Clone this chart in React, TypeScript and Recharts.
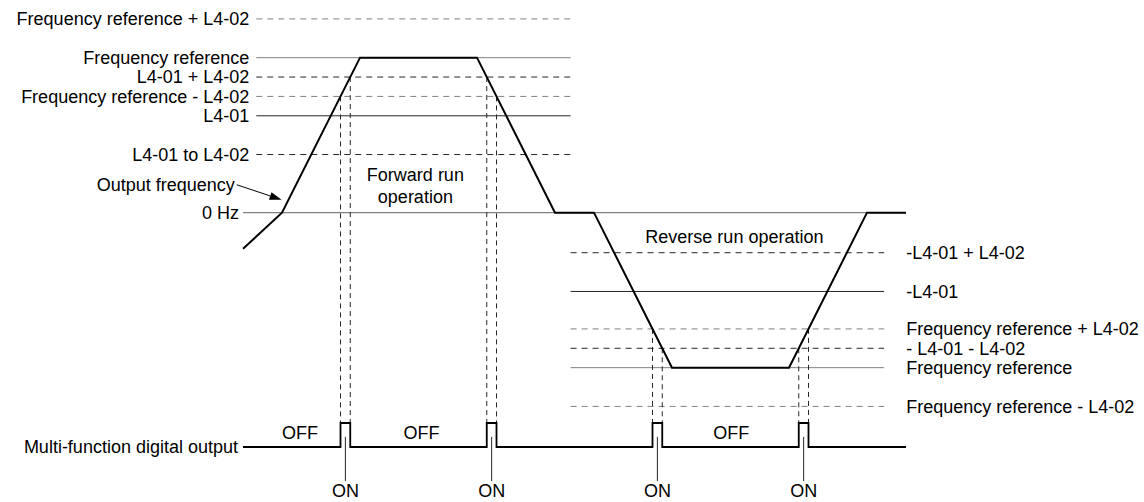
import { LineChart, Line, XAxis, YAxis, ReferenceLine, ReferenceDot } from 'recharts';

// output frequency trace: corners in time (s) and frequency (Hz)
const traceTimes = [0, 5, 15, 30, 40, 45, 55, 70, 80, 85];
const traceFreqs = [-14, 0, 60, 60, 0, 0, -60, -60, 0, 0];

// detection levels on the forward side (labels on the left)
const forwardLabels = ['Frequency reference + L4-02', 'Frequency reference', 'L4-01 + L4-02', 'Frequency reference - L4-02', 'L4-01', 'L4-01 to L4-02'];
const forwardLevels = [75, 60, 52.5, 45, 37.5, 22.5];
const forwardSpan = [1.7, 42];

// detection levels on the reverse side (labels on the right)
const reverseLabels = ['-L4-01 + L4-02', '-L4-01', 'Frequency reference + L4-02', '- L4-01 - L4-02', 'Frequency reference', 'Frequency reference - L4-02'];
const reverseLevels = [-15.5, -30.5, -45, -52.5, -60, -75];
const reverseSpan = [42, 82.2];

// multi-function digital output ON windows (s)
const pulseStarts = [12.5, 31.25, 52.5, 71.25];
const pulseEnds = [13.75, 32.5, 53.75, 72.5];
// level the trace crosses at each pulse edge (start, end, start, end ...)
const edgeLevels = [45, 52.5, 52.5, 45, -45, -52.5, -52.5, -45];

const offTimes = [7.3, 22.9, 62.6];

const FREQ_DOMAIN: [number, number] = [-112, 80];
const DOUT_DOMAIN: [number, number] = [-55 / 24, 441 / 24];
const T_END = 85;

const GREY = '#808080';
const DARK = '#262626';
const font = "'Liberation Sans', Arial, sans-serif";

// both y axes share the plot height, so a frequency value can be expressed on the output axis
const toDout = (f: number) =>
    DOUT_DOMAIN[0] + ((f - FREQ_DOMAIN[0]) / (FREQ_DOMAIN[1] - FREQ_DOMAIN[0])) * (DOUT_DOMAIN[1] - DOUT_DOMAIN[0]);

const txt = (value: string, position: any, offset = 5) => ({ value, position, offset, fill: '#000', fontSize: 18, fontFamily: font });

function Arrow(props: any) {
    const { x1, y1, x2, y2 } = props;
    const a = Math.atan2(y2 - y1, x2 - x1);
    const len = 12;
    const half = 4;
    const bx = x2 - len * Math.cos(a);
    const by = y2 - len * Math.sin(a);
    const px = -Math.sin(a) * half;
    const py = Math.cos(a) * half;
    return (
        <g>
            <line x1={x1} y1={y1} x2={bx} y2={by} stroke="#000" strokeWidth={1} />
            <polygon points={`${x2},${y2} ${bx + px},${by + py} ${bx - px},${by - py}`} fill="#000" />
        </g>
    );
}

export default function App() {
    const trace = traceTimes.map((t, i) => ({ t, f: traceFreqs[i] }));
    const dout: { t: number; d: number }[] = [{ t: 0, d: 0 }];
    pulseStarts.forEach((s, i) => {
        dout.push({ t: s, d: 0 }, { t: s, d: 1 }, { t: pulseEnds[i], d: 1 }, { t: pulseEnds[i], d: 0 });
    });
    dout.push({ t: T_END, d: 0 });
    const edgeTimes = pulseStarts.flatMap((s, i) => [s, pulseEnds[i]]);
    const pulseMids = pulseStarts.map((s, i) => (s + pulseEnds[i]) / 2);

    return (
        <div style={{ position: 'absolute', left: 0, top: 0, width: 1144, height: 502, background: '#fff', fontFamily: font }}>
            <LineChart width={1144} height={502} margin={{ top: 6, right: 238, bottom: 0, left: 204 }}>
                <XAxis type="number" dataKey="t" domain={[-5, T_END]} hide allowDataOverflow />
                <YAxis yAxisId="freq" type="number" domain={FREQ_DOMAIN} hide allowDataOverflow />
                <YAxis yAxisId="dout" type="number" domain={DOUT_DOMAIN} hide allowDataOverflow />

                {forwardLevels.map((v, i) => (
                    <ReferenceLine
                        key={'fw' + i}
                        yAxisId="freq"
                        segment={[{ x: forwardSpan[0], y: v }, { x: forwardSpan[1], y: v }]}
                        stroke={forwardLabels[i].startsWith('Frequency') ? GREY : DARK}
                        strokeWidth={1}
                        strokeDasharray={forwardLabels[i].includes('L4-02') ? '6 5' : undefined}
                        ifOverflow="visible"
                        label={txt(forwardLabels[i], 'left', 7)}
                    />
                ))}
                {reverseLevels.map((v, i) => (
                    <ReferenceLine
                        key={'rv' + i}
                        yAxisId="freq"
                        segment={[{ x: reverseSpan[0], y: v }, { x: reverseSpan[1], y: v }]}
                        stroke={reverseLabels[i].startsWith('Frequency') ? GREY : DARK}
                        strokeWidth={1}
                        strokeDasharray={reverseLabels[i].includes('L4-02') ? '6 5' : undefined}
                        ifOverflow="visible"
                        label={txt(reverseLabels[i], 'right', 22)}
                    />
                ))}
                <ReferenceLine
                    yAxisId="freq"
                    segment={[{ x: 0, y: 0 }, { x: T_END, y: 0 }]}
                    stroke={GREY}
                    strokeWidth={1.3}
                    ifOverflow="visible"
                    label={txt('0 Hz', 'left', 4)}
                />

                {edgeTimes.map((t, i) => (
                    <ReferenceLine
                        key={'edge' + i}
                        yAxisId="dout"
                        segment={[{ x: t, y: toDout(edgeLevels[i]) }, { x: t, y: 1 }]}
                        stroke={DARK}
                        strokeWidth={1}
                        strokeDasharray="5 4"
                        ifOverflow="visible"
                    />
                ))}
                {pulseMids.map((t, i) => (
                    <ReferenceLine
                        key={'on' + i}
                        yAxisId="dout"
                        segment={[{ x: t, y: 0.42 }, { x: t, y: -1.42 }]}
                        stroke={DARK}
                        strokeWidth={1}
                        ifOverflow="visible"
                    />
                ))}
                {pulseMids.map((t, i) => (
                    <ReferenceDot key={'ont' + i} yAxisId="dout" x={t} y={-1.83} r={0} fill="none" stroke="none" ifOverflow="visible" label={txt('ON', 'center')} />
                ))}
                {offTimes.map((t, i) => (
                    <ReferenceDot key={'off' + i} yAxisId="dout" x={t} y={0.6} r={0} fill="none" stroke="none" ifOverflow="visible" label={txt('OFF', 'center')} />
                ))}
                <ReferenceDot yAxisId="dout" x={0} y={0} r={0} fill="none" stroke="none" ifOverflow="visible" label={txt('Multi-function digital output', 'left', 5)} />

                <ReferenceDot yAxisId="freq" x={22.1} y={14.7} r={0} fill="none" stroke="none" label={txt('Forward run', 'center')} />
                <ReferenceDot yAxisId="freq" x={22.1} y={6.2} r={0} fill="none" stroke="none" label={txt('operation', 'center')} />
                <ReferenceDot yAxisId="freq" x={63} y={-9.3} r={0} fill="none" stroke="none" label={txt('Reverse run operation', 'center')} />
                <ReferenceDot yAxisId="freq" x={-0.8} y={10.8} r={0} fill="none" stroke="none" label={txt('Output frequency', 'left', 2)} />
                <ReferenceLine yAxisId="freq" segment={[{ x: -0.8, y: 10.8 }, { x: 4.95, y: 5 }]} ifOverflow="visible" shape={<Arrow />} />

                <Line yAxisId="freq" data={trace} dataKey="f" type="linear" stroke="#000" strokeWidth={2} dot={false} activeDot={false} isAnimationActive={false} />
                <Line yAxisId="dout" data={dout} dataKey="d" type="linear" stroke="#000" strokeWidth={1.8} dot={false} activeDot={false} isAnimationActive={false} />
            </LineChart>
        </div>
    );
}
